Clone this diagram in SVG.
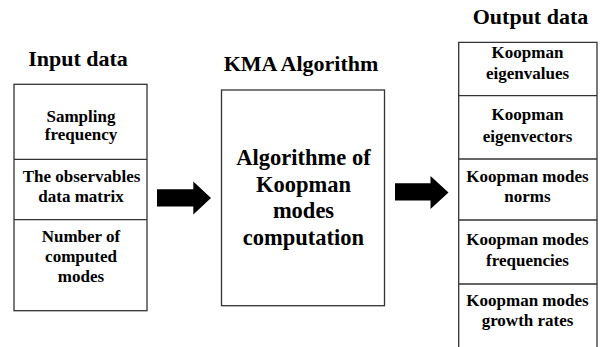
<svg xmlns="http://www.w3.org/2000/svg" width="612" height="347" viewBox="0 0 612 347">
<style>
  .box { fill: #fff; stroke: #333; stroke-width: 1.3; }
  .div { stroke: #333; stroke-width: 1.3; fill: none; }
  text { font-family: 'Liberation Serif', Tinos, 'Times New Roman', 'DejaVu Serif', serif; font-weight: bold; fill: #000; text-anchor: middle; }
  .title { font-size: 22px; }
  .cell { font-size: 17px; }
  .big { font-size: 22.5px; }
  .arrow { fill: #000; }
</style>
<rect width="612" height="347" fill="#fff"/>

<g id="input">
  <text class="title" x="78" y="66">Input data</text>
  <rect class="box" x="14" y="84.3" width="133" height="226.4"/>
  <line class="div" x1="14" y1="159.3" x2="147" y2="159.3"/>
  <line class="div" x1="14" y1="219.7" x2="147" y2="219.7"/>
  <text class="cell" x="81" y="121.5">Sampling</text>
  <text class="cell" x="81" y="140">frequency</text>
  <text class="cell" x="81.5" y="181.5">The observables</text>
  <text class="cell" x="81" y="201.5">data matrix</text>
  <text class="cell" x="81" y="241.5">Number of</text>
  <text class="cell" x="81" y="261.5">computed</text>
  <text class="cell" x="81" y="281.5">modes</text>
</g>

<g id="kma">
  <text class="title" x="301" y="70.7">KMA Algorithm</text>
  <rect class="box" x="221.5" y="90" width="163" height="215.7"/>
  <text class="big" x="303.5" y="165">Algorithme of</text>
  <text class="big" x="303.5" y="191.7">Koopman</text>
  <text class="big" x="303.5" y="218">modes</text>
  <text class="big" x="303.5" y="245">computation</text>
</g>

<g id="output">
  <text class="title" x="530.5" y="24">Output data</text>
  <path class="div" d="M458.7,347 V42.3 H597 V347"/>
  <line class="div" x1="458.7" y1="95.7" x2="597" y2="95.7"/>
  <line class="div" x1="458.7" y1="159" x2="597" y2="159"/>
  <line class="div" x1="458.7" y1="220" x2="597" y2="220"/>
  <line class="div" x1="458.7" y1="284" x2="597" y2="284"/>
  <text class="cell" x="527.5" y="58.3">Koopman</text>
  <text class="cell" x="527.5" y="79.3">eigenvalues</text>
  <text class="cell" x="527.5" y="120">Koopman</text>
  <text class="cell" x="527.5" y="141.5">eigenvectors</text>
  <text class="cell" x="527.5" y="181.5">Koopman modes</text>
  <text class="cell" x="527.5" y="201.5">norms</text>
  <text class="cell" x="527.5" y="245">Koopman modes</text>
  <text class="cell" x="527.5" y="266">frequencies</text>
  <text class="cell" x="527.5" y="306">Koopman modes</text>
  <text class="cell" x="527.5" y="326">growth rates</text>
</g>

<g id="connectors">
  <polygon class="arrow" points="157,189.3 193.3,189.3 193.3,181.5 211,198 193.3,214.5 193.3,206.5 157,206.5"/>
  <polygon class="arrow" points="395,183.3 430.5,183.3 430.5,176 448.5,192.5 430.5,209 430.5,200.5 395,200.5"/>
</g>
</svg>
